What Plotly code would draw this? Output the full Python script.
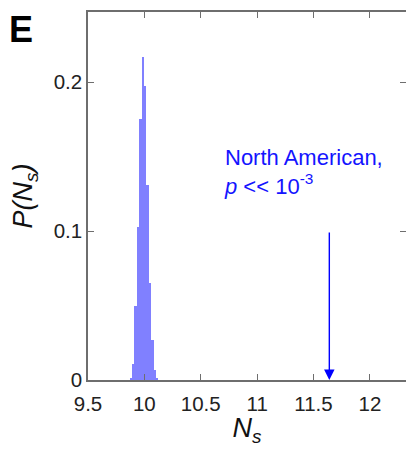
import plotly.graph_objects as go

# Histogram of N_s (bin centers and probabilities)
bin_start = 9.8797
bin_width = 0.0213
probs = [0.0015, 0.011, 0.05, 0.103, 0.175, 0.217, 0.197, 0.131, 0.065, 0.027, 0.007, 0.001]
centers = [bin_start + bin_width * i for i in range(len(probs))]

observed_ns = 11.64
arrow_top = 0.1

x_ticks = [9.5, 10, 10.5, 11, 11.5, 12]
x_tick_labels = ["9.5", "10", "10.5", "11", "11.5", "12"]
y_ticks = [0, 0.1, 0.2]
y_tick_labels = ["0", "0.1", "0.2"]

font_family = "Liberation Sans, Arial, Helvetica, sans-serif"
axis_color = "#6e6e6e"

fig = go.Figure()
fig.add_trace(go.Bar(
    x=centers, y=probs, width=bin_width,
    marker=dict(color="#8080ff", line=dict(width=0)),
    showlegend=False,
))

fig.add_annotation(
    x=observed_ns, y=0, ax=observed_ns, ay=arrow_top,
    xref="x", yref="y", axref="x", ayref="y",
    showarrow=True, arrowhead=2, arrowsize=1.5, arrowwidth=1.4,
    arrowcolor="#0000ff", text="",
)
fig.add_annotation(
    x=10.688, y=0.159, xref="x", yref="y",
    xanchor="left", yanchor="top", align="left", showarrow=False,
    text="North American,<br><i>p</i> << 10<sup>-3</sup>",
    font=dict(family=font_family, size=22, color="#1414ff"),
)
fig.add_annotation(
    x=-0.253, y=1.0109, xref="paper", yref="paper", xanchor="left", yanchor="top",
    text="<b>E</b>", showarrow=False, borderpad=0,
    font=dict(family=font_family, size=36, color="black"),
)

fig.update_layout(
    width=398, height=439,
    margin=dict(l=80, r=0, t=4, b=67),
    paper_bgcolor="white", plot_bgcolor="white",
    bargap=0,
    font=dict(family=font_family, size=20.5, color="#222222"),
    xaxis=dict(
        range=[9.5, 12.32], tickmode="array", tickvals=x_ticks, ticktext=x_tick_labels,
        ticks="inside", ticklen=6, tickwidth=1.2, tickcolor=axis_color,
        showline=True, linecolor=axis_color, linewidth=1.5, mirror="ticks",
        showgrid=False, zeroline=False, automargin=False, ticklabelstandoff=5,
        title=dict(text="<i>N<sub>s</sub></i>", font=dict(size=27, color="#111111"), standoff=9),
        tickfont=dict(size=20.5, color="#222222"),
    ),
    yaxis=dict(
        range=[0, 0.247], tickmode="array", tickvals=y_ticks, ticktext=y_tick_labels,
        ticks="inside", ticklen=6, tickwidth=1.2, tickcolor=axis_color,
        showline=True, linecolor=axis_color, linewidth=1.5, mirror="ticks",
        showgrid=False, zeroline=False, automargin=False,
        title=dict(text="<i>P(N<sub>s</sub>)</i>", font=dict(size=27, color="#111111"), standoff=18),
        tickfont=dict(size=20.5, color="#222222"),
    ),
)

fig.write_html("out.html")
